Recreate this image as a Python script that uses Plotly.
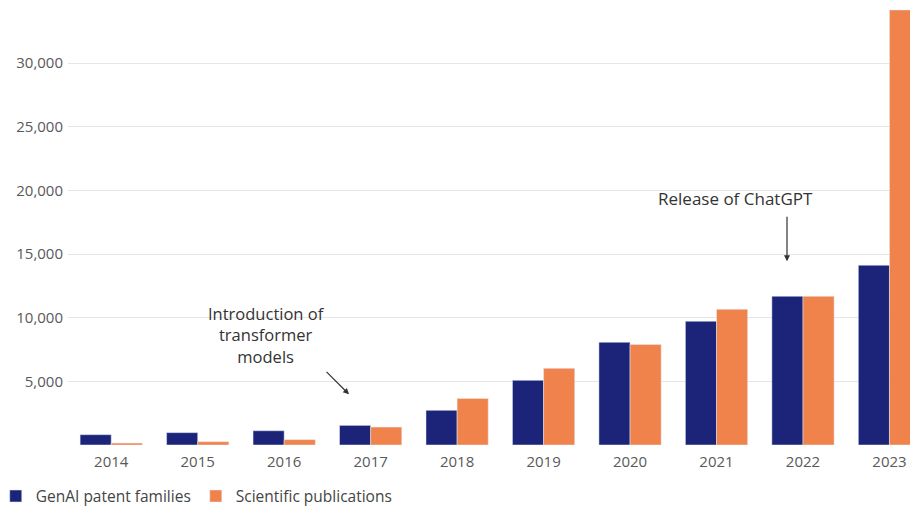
import plotly.graph_objects as go

years = ["2014", "2015", "2016", "2017", "2018", "2019", "2020", "2021", "2022", "2023"]
patents = [810, 970, 1120, 1540, 2720, 5080, 8070, 9720, 11680, 14120]
publications = [150, 260, 420, 1410, 3660, 6020, 7900, 10660, 11680, 34170]
y_ticks = [5000, 10000, 15000, 20000, 25000, 30000]

BLUE = "#1b2478"
ORANGE = "#f0834b"
FONT = "Open Sans"

fig = go.Figure()
fig.add_bar(x=years, y=patents, name="GenAI patent families", marker_color=BLUE)
fig.add_bar(x=years, y=publications, name="Scientific publications", marker_color=ORANGE)

annotations = [
    dict(x=1.80, y=8620, xref="x", yref="y", text="Introduction of<br>transformer<br>models",
         showarrow=False, align="center", font=dict(size=16.5, color="#333")),
    dict(x=2.75, y=3980, xref="x", yref="y", text="", showarrow=True,
         ax=-24, ay=-24, arrowhead=2, arrowsize=1, arrowwidth=1.2, arrowcolor="#333"),
    dict(x=7.225, y=19380, xref="x", yref="y", text="Release of ChatGPT",
         showarrow=False, font=dict(size=17, color="#333")),
    dict(x=7.815, y=14430, xref="x", yref="y", text="", showarrow=True,
         ax=0, ay=-46, arrowhead=2, arrowsize=1, arrowwidth=1.2, arrowcolor="#333"),
]

fig.update_layout(
    width=910, height=500,
    margin=dict(l=60, r=0, t=0, b=63.4, autoexpand=False),
    paper_bgcolor="white", plot_bgcolor="white",
    barmode="group", bargap=0.28, bargroupgap=0,
    font=dict(family=FONT, size=15, color="#595959"),
    legend=dict(orientation="h", x=-0.085, xanchor="left", y=-0.1177, yanchor="middle",
                font=dict(size=15.5, color="#444"), traceorder="normal"),
    xaxis=dict(type="category", range=[-0.5, 9.33], showgrid=False, showline=False,
               automargin=False, ticks="", ticklabelstandoff=6,
               tickfont=dict(size=15, color="#595959")),
    yaxis=dict(range=[0, 34324], tickvals=y_ticks, tickformat=",", showgrid=True,
               gridcolor="#e6e6e6", gridwidth=1, zeroline=False, showline=False,
               automargin=False, ticks="", ticklabelstandoff=4,
               tickfont=dict(size=15, color="#595959")),
    annotations=annotations,
)

fig.write_html("out.html")
